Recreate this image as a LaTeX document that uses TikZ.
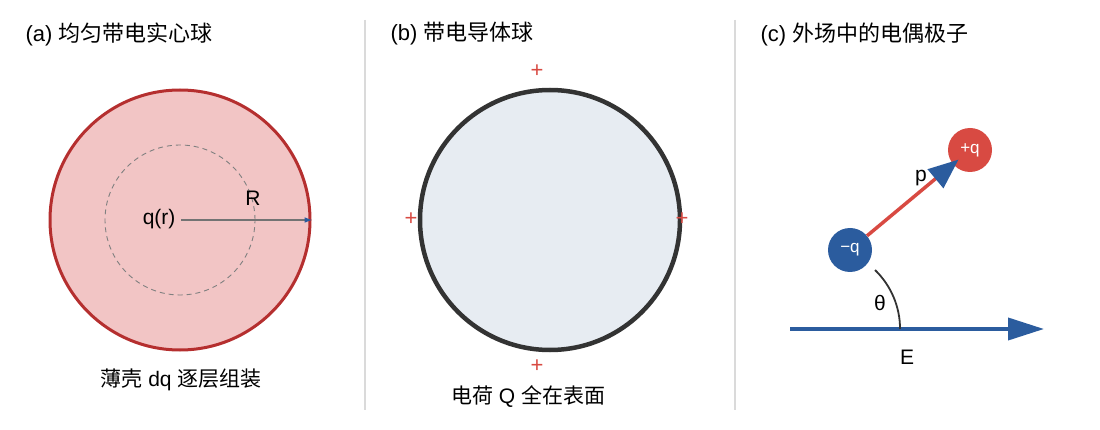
\documentclass[tikz,border=0pt]{standalone}
\usepackage{fontspec}
\setmainfont{Liberation Sans}
\newfontfamily\cjk{Noto Sans CJK SC}
\usetikzlibrary{arrows.meta}
\definecolor{pinkfill}{HTML}{F2C5C5}
\definecolor{redstroke}{HTML}{B52F2F}
\definecolor{bluec}{HTML}{2B5C9E}
\definecolor{redc}{HTML}{D84A42}
\definecolor{divider}{HTML}{DADADA}
\definecolor{condfill}{HTML}{E7ECF2}
\definecolor{condstroke}{HTML}{333333}
\tikzset{
  title/.style={anchor=west, font=\fontsize{22}{24}\selectfont},
  lbl/.style={font=\fontsize{21}{23}\selectfont},
  plussign/.style={text=redc, font=\fontsize{22}{24}\selectfont, inner sep=0pt},
  charge/.style={circle, minimum size=44pt, inner sep=0pt, text=white, font=\fontsize{17}{19}\selectfont},
  divline/.style={draw=divider, line width=1.2pt},
}
\begin{document}
\begin{tikzpicture}[x=1pt,y=-1pt]
\useasboundingbox (0,0) rectangle (1100,430);
% dividers
\coordinate (d1a) at (365,20); \coordinate (d1b) at (365,410);
\coordinate (d2a) at (735,20); \coordinate (d2b) at (735,410);
\draw[divline] (d1a) -- (d1b);
\draw[divline] (d2a) -- (d2b);
% titles
\node[title] (ta) at (22,34) {(a) {\cjk 均匀带电实心球}};
\node[title] (tb) at (387,34) {(b) {\cjk 带电导体球}};
\node[title] (tc) at (757,34) {(c) {\cjk 外场中的电偶极子}};
% panel a
\node[circle, draw=redstroke, line width=3pt, fill=pinkfill, minimum size=260pt, inner sep=0pt] (sa) at (180,220) {};
\node[circle, draw=gray, dash pattern=on 5pt off 4pt, line width=0.9pt, minimum size=150pt, inner sep=0pt] (inner) at (180,220) {};
\coordinate (ca) at (181,220);
\draw[draw=gray!90!black, line width=1.3pt, -{Triangle[length=7pt,width=5pt,color=bluec]}] (ca) -- (sa.east);
\node[lbl, anchor=east] (qr) at (179,219) {q(r)};
\node[lbl] (R) at (253,198) {R};
\node[lbl] (capa) at (181,380) {{\cjk 薄壳} dq {\cjk 逐层组装}};
% panel b
\node[circle, draw=condstroke, line width=4.5pt, fill=condfill, minimum size=260pt, inner sep=0pt] (sb) at (550,220) {};
\node[plussign] (p1) at (537,71) {+};
\node[plussign] (p2) at (411,219) {+};
\node[plussign] (p3) at (682,219) {+};
\node[plussign] (p4) at (537,366) {+};
\node[lbl] (capb) at (528,397) {{\cjk 电荷} Q {\cjk 全在表面}};
% panel c
\coordinate (e0) at (790,329);
\coordinate (e1) at (1044,329);
\draw[bluec, line width=3.8pt, -{Triangle[length=36pt,width=22pt]}] (e0) -- (e1);
\node[lbl] (E) at (907,357) {E};
\draw[condstroke, line width=1.8pt] (875,270) arc[start angle=-46, end angle=0, radius=82];
\node[lbl] (th) at (880,303) {θ};
\node[charge, fill=bluec] (nq) at (850,250) {−q};
\node[charge, fill=redc] (pq) at (970,150) {+q};
\draw[redc, line width=3.5pt, shorten >=15pt, -{Triangle[length=30pt,width=24pt,color=bluec]}] (nq) -- (pq.center);
\node[lbl] (p) at (921,178) {p};
\end{tikzpicture}
\end{document}
